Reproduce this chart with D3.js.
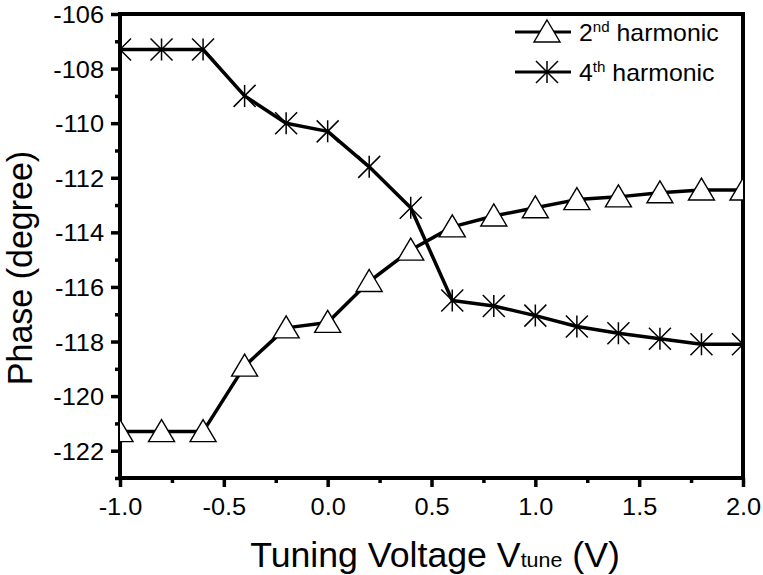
<!DOCTYPE html>
<html>
<head>
<meta charset="utf-8">
<script src="https://cdn.jsdelivr.net/npm/d3@7"></script>
<style>
  html, body { margin: 0; padding: 0; background: #fff; }
  svg { display: block; font-family: "Liberation Sans", Arial, sans-serif; }
</style>
</head>
<body>
<svg id="chart" width="763" height="575"></svg>
<script>
// Tuning voltage sweep (V)
const voltage = [-1.0, -0.8, -0.6, -0.4, -0.2, 0.0, 0.2, 0.4, 0.6, 0.8, 1.0, 1.2, 1.4, 1.6, 1.8, 2.0];
// Phase of each harmonic (degree)
const secondHarmonic = [-121.3, -121.3, -121.3, -118.9, -117.5, -117.3, -115.8, -114.65, -113.8, -113.4, -113.1, -112.8, -112.7, -112.55, -112.45, -112.45];
const fourthHarmonic = [-107.3, -107.3, -107.3, -109.0, -110.0, -110.3, -111.6, -113.1, -116.5, -116.7, -117.05, -117.45, -117.7, -117.9, -118.1, -118.1];

const xMajorTicks = [-1.0, -0.5, 0.0, 0.5, 1.0, 1.5, 2.0];
const xTickLabels = ["-1.0", "-0.5", "0.0", "0.5", "1.0", "1.5", "2.0"];
const xMinorTicks = [-0.75, -0.25, 0.25, 0.75, 1.25, 1.75];
const yMajorTicks = [-106, -108, -110, -112, -114, -116, -118, -120, -122];
const yTickLabels = ["-106", "-108", "-110", "-112", "-114", "-116", "-118", "-120", "-122"];
const yMinorTicks = [-107, -109, -111, -113, -115, -117, -119, -121, -123];

const svg = d3.select("#chart");
const plot = { left: 120, right: 743, top: 14, bottom: 478 };
const textStretch = 1.08;   // slightly wide lettering

const x = d3.scaleLinear().domain([-1.0, 2.0]).range([plot.left, plot.right]);
const y = d3.scaleLinear().domain([-123, -106]).range([plot.bottom, plot.top]);

svg.append("defs").append("clipPath").attr("id", "plot-clip")
  .append("rect")
  .attr("x", plot.left).attr("y", plot.top)
  .attr("width", plot.right - plot.left).attr("height", plot.bottom - plot.top);

// Axes: major ticks with labels, minor ticks without
svg.append("g").attr("transform", `translate(0,${plot.bottom})`)
  .call(d3.axisBottom(x).tickValues(xMajorTicks).tickSize(9)
    .tickFormat((d, i) => xTickLabels[i]))
  .selectAll(".tick text")
  .attr("y", null).attr("dy", null)
  .attr("transform", `translate(0,37) scale(${textStretch},1)`);
svg.append("g").attr("transform", `translate(0,${plot.bottom})`)
  .call(d3.axisBottom(x).tickValues(xMinorTicks).tickSize(5).tickFormat(""));

svg.append("g").attr("transform", `translate(${plot.left},0)`)
  .call(d3.axisLeft(y).tickValues(yMajorTicks).tickSize(9)
    .tickFormat((d, i) => yTickLabels[i]))
  .selectAll(".tick text")
  .attr("x", null).attr("dy", null)
  .attr("transform", `translate(-16,8.5) scale(${textStretch},1)`);
svg.append("g").attr("transform", `translate(${plot.left},0)`)
  .call(d3.axisLeft(y).tickValues(yMinorTicks).tickSize(5).tickFormat(""));

svg.selectAll(".domain").remove();
svg.selectAll(".tick line").attr("stroke", "#000").attr("stroke-width", 3.5);
svg.selectAll(".tick text")
  .attr("fill", "#000")
  .style("font-family", '"Liberation Sans", Arial, sans-serif')
  .style("font-size", "23.5px");

// Frame
svg.append("rect")
  .attr("x", plot.left).attr("y", plot.top)
  .attr("width", plot.right - plot.left).attr("height", plot.bottom - plot.top)
  .attr("fill", "none").attr("stroke", "#000").attr("stroke-width", 4);

// Marker shapes
const triPath = () => "M0,-12L13,10L-13,10Z";
const starPath = (s) => {
  const h = s / 2;
  return `M0,${-h}L0,${h}M${-h},${-h}L${h},${h}M${-h},${h}L${h},${-h}`;
};

const line = d3.line().x(d => x(d[0])).y(d => y(d[1])).curve(d3.curveLinear);

const series = [
  { name: "2nd", values: secondHarmonic, marker: "tri" },
  { name: "4th", values: fourthHarmonic, marker: "star" }
];

const plotG = svg.append("g").attr("clip-path", "url(#plot-clip)");

series.forEach(s => {
  const pts = voltage.map((v, i) => [v, s.values[i]]);
  plotG.append("path")
    .datum(pts)
    .attr("d", line)
    .attr("fill", "none")
    .attr("stroke", "#000")
    .attr("stroke-width", 3.5)
    .attr("stroke-linejoin", "round");
  const marks = plotG.append("g").selectAll("path").data(pts).join("path")
    .attr("transform", d => `translate(${x(d[0])},${y(d[1])})`);
  if (s.marker === "tri") {
    marks.attr("d", triPath()).attr("fill", "#fff").attr("stroke", "#000").attr("stroke-width", 1.4);
  } else {
    marks.attr("d", starPath(22)).attr("fill", "none").attr("stroke", "#000").attr("stroke-width", 1.5);
  }
});

// Legend
const legend = svg.append("g");
const legendRows = [
  { y: 32, marker: "tri", num: "2", sup: "nd" },
  { y: 72, marker: "star", num: "4", sup: "th" }
];
legendRows.forEach(r => {
  legend.append("line")
    .attr("x1", 515).attr("x2", 571).attr("y1", r.y).attr("y2", r.y)
    .attr("stroke", "#000").attr("stroke-width", 3);
  const m = legend.append("path").attr("transform", `translate(547,${r.y})`);
  if (r.marker === "tri") {
    m.attr("d", triPath()).attr("fill", "#fff").attr("stroke", "#000").attr("stroke-width", 1.4);
  } else {
    m.attr("d", starPath(22)).attr("fill", "none").attr("stroke", "#000").attr("stroke-width", 1.5);
  }
  const t = legend.append("text")
    .attr("transform", `translate(579,${r.y + 8.5}) scale(1.08,1)`)
    .style("font-size", "23px").attr("fill", "#000");
  t.append("tspan").text(r.num);
  t.append("tspan").attr("dy", -9).style("font-size", "14px").text(r.sup);
  t.append("tspan").attr("dy", 9).text(" harmonic");
});

// Axis titles
const xTitle = svg.append("text")
  .attr("transform", `translate(435,567) scale(1.02,1)`)
  .attr("text-anchor", "middle")
  .style("font-size", "35px").attr("fill", "#000");
xTitle.append("tspan").text("Tuning Voltage V");
xTitle.append("tspan").style("font-size", "21px").text("tune");
xTitle.append("tspan").text(" (V)");

svg.append("text")
  .attr("transform", `translate(32,268) scale(1.05,1) rotate(-90)`)
  .attr("text-anchor", "middle")
  .style("font-size", "34px").attr("fill", "#000")
  .text("Phase (degree)");
</script>
</body>
</html>
